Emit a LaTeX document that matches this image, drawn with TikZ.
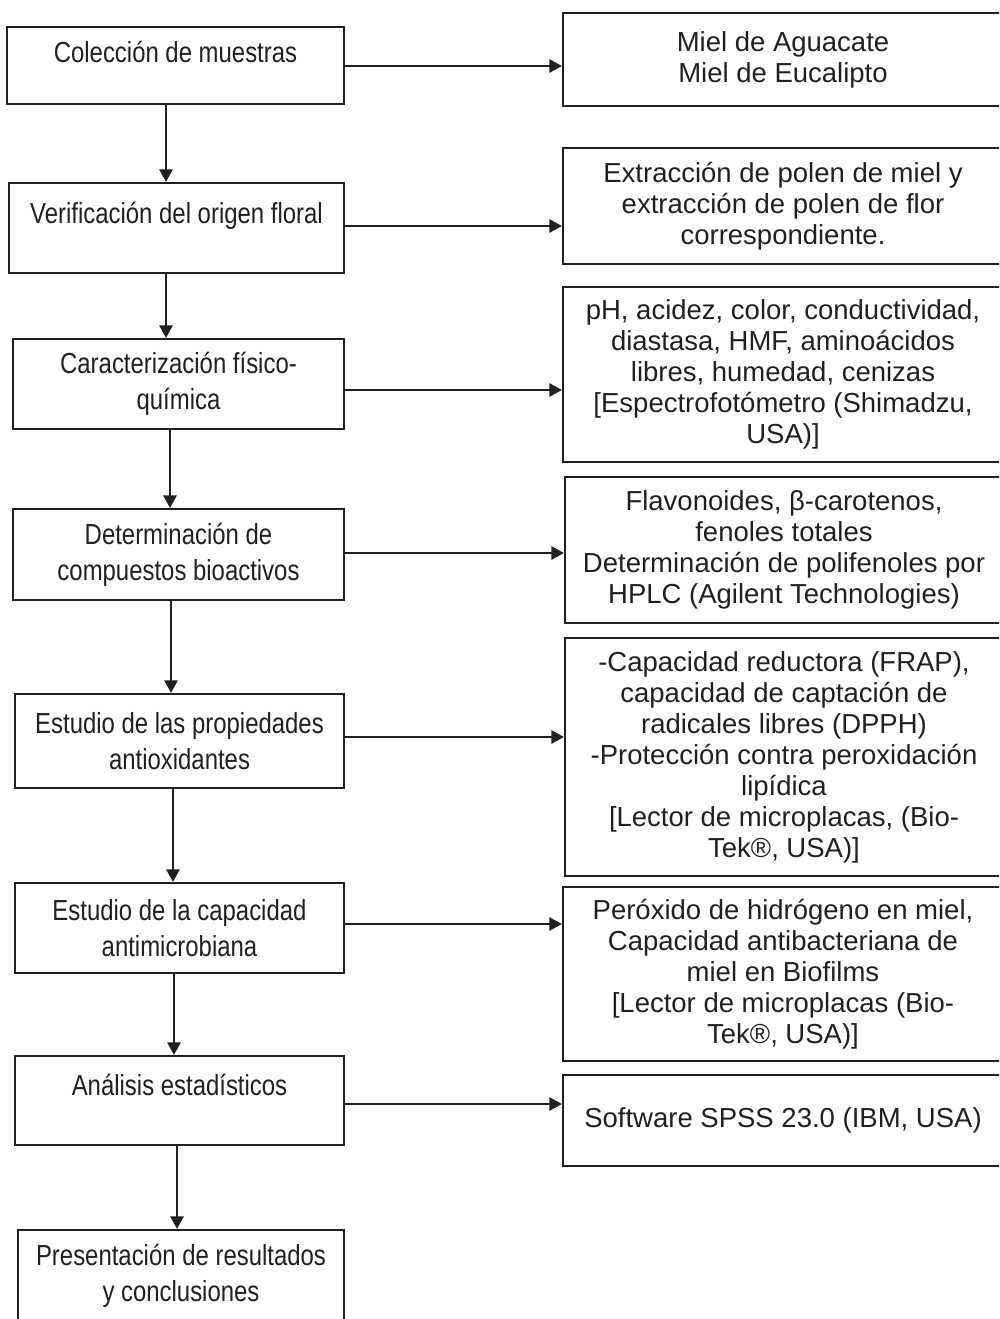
\documentclass[tikz,border=0pt]{standalone}
\usepackage{fontspec}
\setmainfont{Liberation Sans}
\newfontfamily\leftfont[FakeStretch=0.825]{Liberation Sans}
\usetikzlibrary{arrows.meta}
\definecolor{ink}{HTML}{231F20}
\begin{document}
\begin{tikzpicture}[x=1pt,y=-1pt,
  box/.style={draw=ink, line width=2.3pt, inner sep=0pt, text=ink, align=center},
  lbox/.style={box, font=\leftfont\fontsize{29}{36}\selectfont},
  rbox/.style={box, font=\fontsize{27.5}{31}\selectfont},
  ltxt/.style={text=ink, inner sep=0pt, anchor=base, font=\leftfont\fontsize{29}{36}\selectfont},
  arr/.style={draw=ink, line width=1.3pt, -{Triangle[length=12.5pt,width=13.5pt]}}]
\useasboundingbox (0,0) rectangle (999,1319);
\clip (0,0) rectangle (999,1319);
% left column
\node[lbox, minimum width=337pt, minimum height=77pt] (L1) at (175.5,65.5) {};
\node[ltxt] (T1) at (175.5,63) {Colección de muestras};
\node[lbox, minimum width=335pt, minimum height=90pt] (L2) at (176.5,228) {};
\node[ltxt] (T2) at (176.5,223) {Verificación del origen floral};
\node[lbox, minimum width=331pt, minimum height=90pt] (L3) at (178.5,384) {Caracterización físico-\\química};
\node[lbox, minimum width=331pt, minimum height=91pt] (L4) at (178.5,554.5) {Determinación de\\compuestos bioactivos};
\node[lbox, minimum width=329pt, minimum height=94pt] (L5) at (179.5,741) {Estudio de las propiedades\\antioxidantes};
\node[lbox, minimum width=329pt, minimum height=90pt] (L6) at (179.5,928) {Estudio de la capacidad\\antimicrobiana};
\node[lbox, minimum width=329pt, minimum height=89pt] (L7) at (179.5,1100.5) {};
\node[ltxt] (T7) at (179.5,1095) {Análisis estadísticos};
\node[lbox, minimum width=326pt, minimum height=91pt] (L8) at (181,1275.5) {Presentación de resultados\\y conclusiones};
% right column
\node[rbox, minimum width=440pt, minimum height=93pt] (R1) at (783,59.5) {Miel de Aguacate\\Miel de Eucalipto};
\node[rbox, minimum width=440pt, minimum height=116pt] (R2) at (783,206) {Extracción de polen de miel y\\extracción de polen de flor\\correspondiente.};
\node[rbox, minimum width=440pt, minimum height=175pt] (R3) at (783,374.5) {pH, acidez, color, conductividad,\\diastasa, HMF, aminoácidos\\libres, humedad, cenizas\\{[}Espectrofotómetro (Shimadzu,\\USA)]};
\node[rbox, minimum width=438pt, minimum height=146pt] (R4) at (784,550) {Flavonoides, β-carotenos,\\fenoles totales\\Determinación de polifenoles por\\HPLC (Agilent Technologies)};
\node[rbox, minimum width=438pt, minimum height=238pt] (R5) at (784,757) {-Capacidad reductora (FRAP),\\capacidad de captación de\\radicales libres (DPPH)\\-Protección contra peroxidación\\lipídica\\{[}Lector de microplacas, (Bio-\\Tek®, USA)]};
\node[rbox, minimum width=440pt, minimum height=174pt] (R6) at (783,974) {Peróxido de hidrógeno en miel,\\Capacidad antibacteriana de\\miel en Biofilms\\{[}Lector de microplacas (Bio-\\Tek®, USA)]};
\node[rbox, minimum width=440pt, minimum height=91pt] (R7) at (783,1120.5) {Software SPSS 23.0 (IBM, USA)};
% vertical arrows
\draw[arr] ([xshift=-9.5pt]L1.south) -- ([xshift=-9.5pt]L1.south |- L2.north);
\draw[arr] ([xshift=-10.5pt]L2.south) -- ([xshift=-10.5pt]L2.south |- L3.north);
\draw[arr] ([xshift=-8.5pt]L3.south) -- ([xshift=-8.5pt]L3.south |- L4.north);
\draw[arr] ([xshift=-7.5pt]L4.south) -- ([xshift=-7.5pt]L4.south |- L5.north);
\draw[arr] ([xshift=-6.5pt]L5.south) -- ([xshift=-6.5pt]L5.south |- L6.north);
\draw[arr] ([xshift=-5.5pt]L6.south) -- ([xshift=-5.5pt]L6.south |- L7.north);
\draw[arr] ([xshift=-2.5pt]L7.south) -- ([xshift=-2.5pt]L7.south |- L8.north);
% horizontal arrows
\draw[arr] ([yshift=-0.5pt]L1.east) -- ([yshift=-0.5pt]L1.east -| R1.west);
\draw[arr] ([yshift=2pt]L2.east) -- ([yshift=2pt]L2.east -| R2.west);
\draw[arr] ([yshift=-6pt]L3.east) -- ([yshift=-6pt]L3.east -| R3.west);
\draw[arr] ([yshift=1.5pt]L4.east) -- ([yshift=1.5pt]L4.east -| R4.west);
\draw[arr] ([yshift=4pt]L5.east) -- ([yshift=4pt]L5.east -| R5.west);
\draw[arr] ([yshift=4pt]L6.east) -- ([yshift=4pt]L6.east -| R6.west);
\draw[arr] ([yshift=-3.5pt]L7.east) -- ([yshift=-3.5pt]L7.east -| R7.west);
\end{tikzpicture}
\end{document}
